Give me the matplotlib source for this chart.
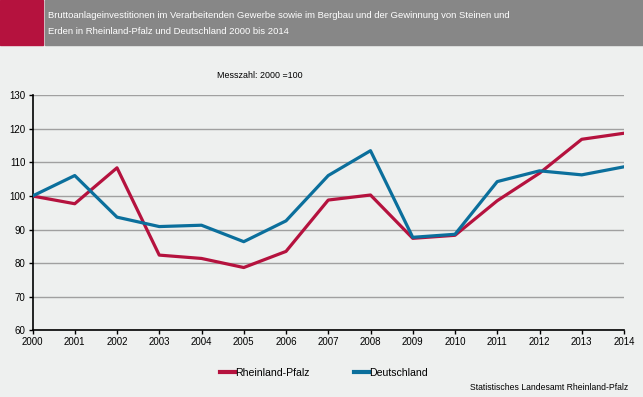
import matplotlib
matplotlib.use('Agg')
import matplotlib.pyplot as plt
from matplotlib.patches import Rectangle
from matplotlib.lines import Line2D

plt.rcParams['font.family'] = ['Liberation Sans', 'DejaVu Sans']

years = list(range(2000, 2015))
rheinland_pfalz = [100, 97.7, 108.4, 82.4, 81.4, 78.7, 83.5, 98.8, 100.3,
                   87.4, 88.3, 98.6, 106.8, 116.9, 118.7]
deutschland = [100, 106.1, 93.7, 90.9, 91.3, 86.4, 92.6, 106.1, 113.5,
               87.7, 88.6, 104.3, 107.5, 106.3, 108.7]
y_ticks = [60, 70, 80, 90, 100, 110, 120, 130]

red = '#b5123e'
blue = '#0b6f9c'
bg = '#eef0ef'

fig = plt.figure(figsize=(6.43, 3.97), dpi=100, facecolor=bg)

# Kopfzeile
fig.patches.append(Rectangle((0, 1 - 45 / 397), 43 / 643, 45 / 397,
                             transform=fig.transFigure, color=red, zorder=0))
fig.patches.append(Rectangle((45 / 643, 1 - 45 / 397), 1, 45 / 397,
                             transform=fig.transFigure, color='#878787', zorder=0))
fig.text(48 / 643, 1 - 16 / 397,
         'Bruttoanlageinvestitionen im Verarbeitenden Gewerbe sowie im Bergbau und der Gewinnung von Steinen und',
         color='white', fontsize=6.8, va='center', ha='left')
fig.text(48 / 643, 1 - 31 / 397,
         'Erden in Rheinland-Pfalz und Deutschland 2000 bis 2014',
         color='white', fontsize=6.8, va='center', ha='left')
fig.text(260 / 643, 1 - 75 / 397, 'Messzahl: 2000 =100', fontsize=6.4,
         ha='center', va='center')

ax = fig.add_axes([32.5 / 643, 1 - 330.3 / 397, (624 - 32.5) / 643, (330.3 - 95.3) / 397])
ax.set_facecolor(bg)
ax.plot(years, rheinland_pfalz, color=red, lw=2.3, zorder=3)
ax.plot(years, deutschland, color=blue, lw=2.3, zorder=3)

ax.set_xlim(2000, 2014)
ax.set_ylim(60, 130)
ax.set_xticks(years)
ax.set_yticks(y_ticks)
ax.tick_params(labelsize=7, length=3, width=1, color='black', pad=2)
ax.yaxis.grid(True, color='#a0a0a0', lw=1)
ax.set_axisbelow(True)
for s in ['top', 'right']:
    ax.spines[s].set_visible(False)
for s in ['left', 'bottom']:
    ax.spines[s].set_linewidth(1.2)

handles = [Line2D([], [], color=red, lw=3), Line2D([], [], color=blue, lw=3)]
fig.legend(handles, ['Rheinland-Pfalz', 'Deutschland'], loc='center',
           bbox_to_anchor=(324 / 643, 1 - 373 / 397), ncol=2, frameon=False,
           fontsize=7.6, handlelength=1.4, handletextpad=0.05, columnspacing=4.2)

fig.text(628 / 643, 1 - 388 / 397, 'Statistisches Landesamt Rheinland-Pfalz',
         fontsize=6.2, ha='right', va='center')

fig.savefig('out.png', dpi=100, facecolor=bg)
